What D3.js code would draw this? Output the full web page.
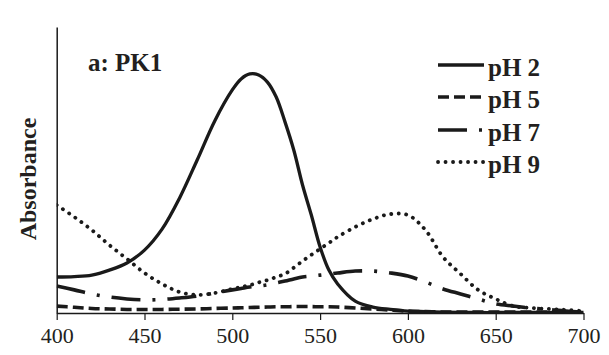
<!DOCTYPE html>
<html>
<head>
<meta charset="utf-8">
<script src="https://cdn.jsdelivr.net/npm/d3@7"></script>
<style>
  html, body { margin: 0; padding: 0; background: #fff; }
  svg { display: block; }
  text { font-family: "Liberation Serif", "Times New Roman", serif; fill: #231f20; }
</style>
</head>
<body>
<svg id="chart" width="609" height="355"></svg>
<script>
// ---- data (wavelength in nm, absorbance in arbitrary units) ----
const wavelengths = [400,410,420,430,440,450,460,470,480,490,500,505,510,515,520,525,530,535,540,545,550,555,560,570,580,590,600,610,620,630,640,650,660,670,680,690,700];

const pH2 = [0.151,0.153,0.159,0.180,0.210,0.264,0.352,0.483,0.642,0.806,0.936,0.982,1.003,0.999,0.969,0.906,0.802,0.684,0.537,0.411,0.277,0.180,0.122,0.050,0.025,0.015,0.008,0.006,0.004,0.003,0.002,0.002,0.002,0.002,0.002,0.002,0.002];

const pH5 = [0.029,0.024,0.019,0.017,0.015,0.015,0.015,0.016,0.017,0.019,0.021,0.022,0.023,0.024,0.025,0.026,0.026,0.027,0.027,0.027,0.026,0.026,0.025,0.021,0.017,0.012,0.008,0.006,0.004,0.004,0.004,0.004,0.004,0.004,0.004,0.004,0.004];

const pH7 = [0.113,0.097,0.080,0.067,0.059,0.055,0.057,0.063,0.071,0.084,0.097,0.103,0.109,0.113,0.118,0.126,0.134,0.143,0.151,0.155,0.159,0.164,0.168,0.176,0.176,0.168,0.155,0.130,0.101,0.080,0.059,0.038,0.029,0.021,0.015,0.008,0.004];

const pH9 = [0.453,0.403,0.348,0.285,0.227,0.168,0.122,0.088,0.076,0.084,0.101,0.109,0.117,0.128,0.138,0.151,0.164,0.190,0.218,0.244,0.269,0.294,0.319,0.361,0.394,0.415,0.411,0.348,0.235,0.164,0.097,0.059,0.029,0.021,0.017,0.013,0.008];

const xTicks = [400,450,500,550,600,650,700];
const seriesNames = ["pH 2","pH 5","pH 7","pH 9"];
const seriesValues = [pH2, pH5, pH7, pH9];
const titleText = "a: PK1";
const yLabel = "Absorbance";

// ---- styles ----
const styles = [
  { width: 3.3, dash: null,          cap: "butt"  },
  { width: 3.6, dash: "11,5",        cap: "butt"  },
  { width: 3.6, dash: "29,12,3,12",  cap: "butt"  },
  { width: 3.8, dash: "0.1,7.4",     cap: "round" }
];
const ink = "#1a1a1a";

const svg = d3.select("#chart");
const x = d3.scaleLinear().domain([400, 700]).range([56.7, 583.5]);
const y = d3.scaleLinear().domain([0, 1.2]).range([313, 27]);

// axes
const xAxis = d3.axisBottom(x).tickValues(xTicks).tickSize(7).tickSizeOuter(0).tickPadding(7).tickFormat(d3.format("d"));
const gx = svg.append("g").attr("transform", `translate(0,${y(0)})`).call(xAxis);
gx.select(".domain").attr("stroke", ink).attr("stroke-width", 1.5);
gx.selectAll(".tick line").attr("stroke", ink).attr("stroke-width", 1.2);
gx.selectAll(".tick text").attr("font-size", 22).attr("fill", "#231f20")
  .attr("font-family", "Liberation Serif, Times New Roman, serif").attr("dy", "0.71em");

const yAxis = d3.axisLeft(y).tickValues([]).tickSizeOuter(0);
const gy = svg.append("g").attr("transform", `translate(${x(400)},0)`).call(yAxis);
gy.select(".domain").attr("stroke", ink).attr("stroke-width", 1.5);

// lines
svg.append("clipPath").attr("id", "plotclip").append("rect")
  .attr("x", x(400)).attr("y", 0).attr("width", x(700) - x(400) + 2).attr("height", y(0) + 1);

const line = d3.line().x((d, i) => x(wavelengths[i])).y(d => y(d)).curve(d3.curveCatmullRom.alpha(0.5));

seriesValues.forEach((vals, k) => {
  const s = styles[k];
  svg.append("path")
    .attr("clip-path", "url(#plotclip)")
    .attr("d", line(vals))
    .attr("fill", "none")
    .attr("stroke", ink)
    .attr("stroke-width", s.width)
    .attr("stroke-linecap", s.cap)
    .attr("stroke-linejoin", "round")
    .attr("stroke-dasharray", s.dash);
});

// title
svg.append("text").attr("x", 88).attr("y", 71).attr("font-size", 25).attr("font-weight", "bold").text(titleText);

// y label
svg.append("text")
  .attr("transform", "translate(36,179) rotate(-90)")
  .attr("text-anchor", "middle")
  .attr("font-size", 24).attr("font-weight", "bold")
  .text(yLabel);

// legend
const legBase = [76, 108, 141, 173];
seriesNames.forEach((name, k) => {
  const s = styles[k];
  const ly = legBase[k] - 11;
  svg.append("line")
    .attr("x1", 438).attr("x2", 484).attr("y1", ly).attr("y2", ly)
    .attr("stroke", ink).attr("stroke-width", s.width)
    .attr("stroke-linecap", s.cap)
    .attr("stroke-dasharray", s.dash);
  svg.append("text").attr("x", 488).attr("y", legBase[k])
    .attr("font-size", 25).attr("font-weight", "bold").text(name);
});
</script>
</body>
</html>
